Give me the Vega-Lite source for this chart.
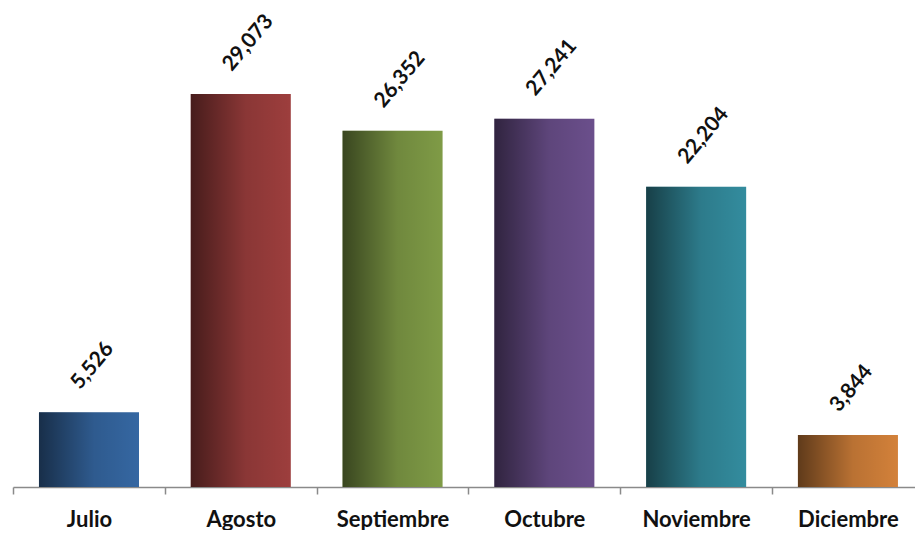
{
  "$schema": "https://vega.github.io/schema/vega-lite/v6.json",
  "width": 903,
  "height": 487,
  "padding": {"left": 12, "top": 0, "right": 0, "bottom": 0},
  "background": "white",
  "config": {"view": {"stroke": null}, "font": "Lato"},
  "data": {
    "values": [
      {"mes": "Julio", "valor": 5526, "color": "#3567a2"},
      {"mes": "Agosto", "valor": 29073, "color": "#9d3e3d"},
      {"mes": "Septiembre", "valor": 26352, "color": "#7f9b46"},
      {"mes": "Octubre", "valor": 27241, "color": "#6b4f8c"},
      {"mes": "Noviembre", "valor": 22204, "color": "#338c9e"},
      {"mes": "Diciembre", "valor": 3844, "color": "#d3813a"}
    ]
  },
  "encoding": {
    "x": {
      "field": "mes",
      "type": "nominal",
      "sort": null,
      "scale": {"paddingInner": 0.341, "paddingOuter": 0.145, "align": 0.59},
      "axis": {
        "title": null,
        "labelAngle": 0,
        "labelFont": "Lato",
        "labelFontWeight": "bold",
        "labelFontSize": 22,
        "labelColor": "#111111",
        "labelPadding": 15,
        "domainColor": "#8a8a8a",
        "domainWidth": 1.5,
        "tickColor": "#8a8a8a",
        "tickWidth": 1.5,
        "tickSize": 7,
        "tickOffset": -75.9,
        "labelOffset": 75.9
      }
    },
    "y": {
      "field": "valor",
      "type": "quantitative",
      "scale": {"domain": [0, 36020]},
      "axis": null
    }
  },
  "layer": [
    {
      "mark": {"type": "bar"},
      "encoding": {"color": {"field": "color", "type": "nominal", "scale": null}}
    },
    {
      "mark": {
        "type": "bar",
        "color": {
          "gradient": "linear",
          "x1": 0, "x2": 1, "y1": 0, "y2": 0,
          "stops": [
            {"offset": 0, "color": "rgba(0,0,0,0.55)"},
            {"offset": 0.55, "color": "rgba(0,0,0,0.12)"},
            {"offset": 1, "color": "rgba(0,0,0,0)"}
          ]
        }
      }
    },
    {
      "mark": {
        "type": "text",
        "angle": -50,
        "align": "left",
        "baseline": "middle",
        "dx": 11,
        "dy": -27,
        "font": "Lato",
        "fontWeight": "bold",
        "fontSize": 21,
        "color": "#111111"
      },
      "encoding": {"text": {"field": "valor", "type": "quantitative", "format": ","}}
    }
  ]
}
